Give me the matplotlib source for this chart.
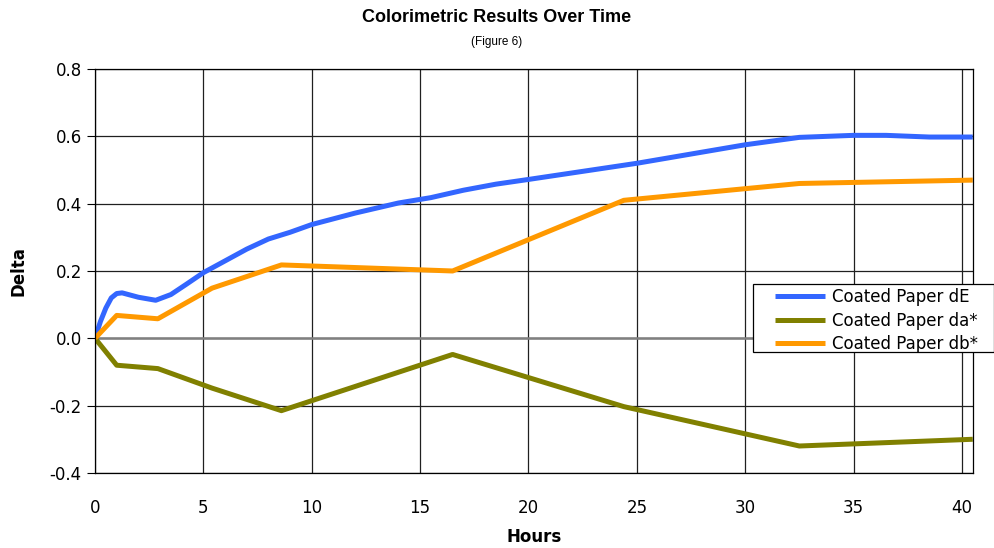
import matplotlib.pyplot as plt
from matplotlib.patches import Rectangle

# Colorimetric data
hours_dE = [0, 0.25, 0.5, 0.75, 1.0, 1.25, 2.0, 2.8, 3.5, 4.2, 5.0, 6.0, 7.0, 8.0, 9.0,
            10.0, 12.0, 14.0, 15.5, 17.0, 18.5, 20.0, 25.0, 30.0, 32.5, 35.0, 36.5, 38.5, 40.5]
dE = [0.0, 0.05, 0.09, 0.12, 0.133, 0.135, 0.122, 0.113, 0.13, 0.16, 0.195, 0.23, 0.265,
      0.295, 0.315, 0.338, 0.372, 0.402, 0.418, 0.44, 0.458, 0.472, 0.52, 0.575, 0.597,
      0.603, 0.603, 0.598, 0.598]

hours_ab = [0, 1.0, 2.9, 5.4, 8.6, 16.5, 24.4, 32.5, 40.5]
da = [0.0, -0.08, -0.09, -0.148, -0.215, -0.048, -0.203, -0.32, -0.30]
db = [0.0, 0.068, 0.058, 0.149, 0.218, 0.20, 0.41, 0.46, 0.47]

series_names = ["Coated Paper dE", "Coated Paper da*", "Coated Paper db*"]
colors = ["#3366FF", "#808000", "#FF9900"]

fig = plt.figure(figsize=(9.94, 5.48), dpi=100)
ax = fig.add_axes([0.0956, 0.137, 0.883, 0.737])

ax.plot(hours_dE, dE, color=colors[0], lw=3.6, label=series_names[0], solid_capstyle="butt")
ax.plot(hours_ab, da, color=colors[1], lw=3.6, label=series_names[1], solid_capstyle="butt")
ax.plot(hours_ab, db, color=colors[2], lw=3.6, label=series_names[2], solid_capstyle="butt")

ax.set_xlim(0, 40.5)
ax.set_ylim(-0.4, 0.8)
ax.set_xticks(range(0, 41, 5))
ax.set_yticks([-0.4, -0.2, 0.0, 0.2, 0.4, 0.6, 0.8])
ax.set_yticklabels(["-0.4", "-0.2", "0.0", "0.2", "0.4", "0.6", "0.8"])
ax.tick_params(axis="both", labelsize=12, colors="black")
ax.tick_params(axis="x", length=0, pad=19)
ax.tick_params(axis="y", length=6, direction="out")
ax.grid(True, color="#202020", lw=0.9)
ax.axhline(0, color="#808080", lw=1.8, zorder=1.6)
for s in ax.spines.values():
    s.set_color("black")
    s.set_linewidth(0.9)

ax.set_xlabel("Hours", fontsize=12, fontweight="bold", labelpad=8)
ax.set_ylabel("Delta", fontsize=12, fontweight="bold", labelpad=16)

fig.text(0.5, 0.968, "Colorimetric Results Over Time", ha="center", va="center",
         fontsize=13, fontweight="bold", family="Liberation Sans")
fig.text(0.5, 0.924, "(Figure 6)", ha="center", va="center", fontsize=8.5,
         family="Liberation Sans")

# legend frame runs past the plot to the edge of the picture
fig.patches.append(Rectangle((753 / 994, 1 - 352 / 548), 241 / 994, 68 / 548,
                             transform=fig.transFigure, facecolor="white",
                             edgecolor="black", lw=0.9, zorder=4))
handles, labels = ax.get_legend_handles_labels()
leg = fig.legend(handles, labels, loc="upper left",
                 bbox_to_anchor=(775 / 994, 1 - 288 / 548),
                 bbox_transform=fig.transFigure, fontsize=12, frameon=False,
                 handlelength=3.0, borderpad=0.0, labelspacing=0.33,
                 handletextpad=0.45, borderaxespad=0)
leg.set_zorder(5)

plt.savefig("out.png", dpi=100)
